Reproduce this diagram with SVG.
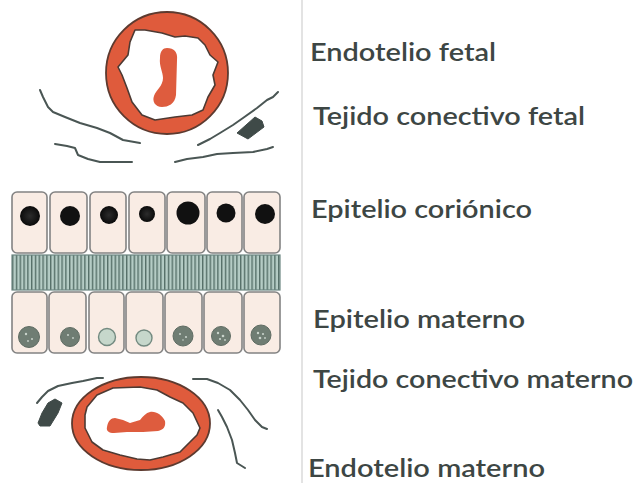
<svg xmlns="http://www.w3.org/2000/svg" width="640" height="483" viewBox="0 0 640 483">
  <style>
    .lbl { font-family: Lato, "Open Sans", "Liberation Sans", sans-serif; font-size: 25px; font-weight: 600; fill: #3d4644; }
    .fiber { fill: none; stroke: #4a5654; stroke-width: 2; stroke-linejoin: round; stroke-linecap: round; }
    .blob { fill: #3f4a48; stroke: #3f4a48; stroke-width: 1; stroke-linejoin: round; }
    .ring { fill: #df5b3c; stroke: #5d3a2f; stroke-width: 1.8; }
    .lumen { fill: #ffffff; stroke: #4d3a33; stroke-width: 1.6; stroke-linejoin: round; }
    .blood { fill: #de5c3e; }
    .cell { fill: #f9ece4; stroke: #838383; stroke-width: 1.6; }
    .nucA { fill: #111111; }
    .nucB { fill: url(#darkNuc); }
    .nucM { fill: #6f7d73; stroke: #5f6c63; stroke-width: 1; }
    .nucL { fill: #c6d7cb; stroke: #738a80; stroke-width: 1.4; }
    .speck { fill: #c9d3cb; }
  </style>
  <defs>
    <radialGradient id="darkNuc" cx="0.5" cy="0.5" r="0.5">
      <stop offset="0" stop-color="#2c2c2c"/>
      <stop offset="0.6" stop-color="#181818"/>
      <stop offset="1" stop-color="#0a0a0a"/>
    </radialGradient>
    <pattern id="stripes" x="12" y="0" width="3.8" height="10" patternUnits="userSpaceOnUse">
      <rect width="3.8" height="10" fill="#b5ccc5"/>
      <rect x="0" width="1.4" height="10" fill="#567069"/>
    </pattern>
  </defs>

  <rect width="640" height="483" fill="#ffffff"/>
  <line x1="302" y1="0" x2="302" y2="483" stroke="#e3e3e3" stroke-width="2"/>

  <!-- fetal capillary -->
  <g id="fetal-vessel">
    <circle class="ring" cx="167" cy="73" r="61"/>
    <path class="lumen" d="M135,30 L145,30 L162,33 L175,37 L185,36 L198,38 L205,45 L210,55 L218,62 L213,75 L215,85 L208,97 L203,110 L192,115 L175,117 L155,120 L142,115 L132,102 L127,88 L122,75 L118,67 L128,55 L130,42 Z"/>
    <path class="blood" d="M167,48 C174,48 178,52 177,60 L176,95 C175,104 168,107 162,107 C155,107 152,101 154,96 C156,90 163,86 163,78 C163,72 159,66 160,58 C160,51 163,48 167,48 Z"/>
  </g>

  <!-- fetal connective tissue -->
  <g id="fetal-connective">
    <polyline class="fiber" points="40,90 43,97 48,107 53,112 65,117 80,123 97,128 110,133 123,140 140,143"/>
    <polyline class="fiber" points="55,144 67,146 75,148 78,155 88,159 100,162 132,162"/>
    <polyline class="fiber" points="198,145 210,139 220,133 233,125 243,118 257,108 267,100 273,97 278,92"/>
    <polyline class="fiber" points="175,162 187,159 203,157 217,154 233,153 253,152 267,149 273,147"/>
    <polygon class="blob" points="237,133 255,117 262,121 264,127 248,139"/>
  </g>

  <!-- chorionic epithelium -->
  <g id="chorionic-epithelium">
    <rect class="cell" x="12" y="192" width="35" height="61" rx="5"/>
    <rect class="cell" x="50" y="192" width="37" height="61" rx="5"/>
    <rect class="cell" x="90" y="192" width="36" height="61" rx="5"/>
    <rect class="cell" x="129" y="192" width="36" height="61" rx="5"/>
    <rect class="cell" x="167" y="192" width="38" height="61" rx="5"/>
    <rect class="cell" x="207" y="192" width="35" height="61" rx="5"/>
    <rect class="cell" x="244" y="192" width="36" height="61" rx="5"/>
    <circle class="nucB" cx="30" cy="216" r="10"/>
    <circle class="nucA" cx="70" cy="216" r="10"/>
    <circle class="nucB" cx="109" cy="215" r="9"/>
    <circle class="nucB" cx="147" cy="214" r="8"/>
    <circle class="nucA" cx="188" cy="213" r="11.5"/>
    <circle class="nucA" cx="226" cy="213" r="9.5"/>
    <circle class="nucA" cx="265" cy="214" r="10"/>
  </g>

  <!-- striated interface -->
  <g id="interface-band">
    <rect x="12" y="255" width="268" height="35" fill="url(#stripes)" stroke="#6c8580" stroke-width="1.2"/>
  </g>

  <!-- maternal epithelium -->
  <g id="maternal-epithelium">
    <rect class="cell" x="12" y="292" width="35" height="61" rx="5"/>
    <rect class="cell" x="49" y="292" width="37" height="61" rx="5"/>
    <rect class="cell" x="89" y="292" width="35" height="61" rx="5"/>
    <rect class="cell" x="126" y="292" width="37" height="61" rx="5"/>
    <rect class="cell" x="165" y="292" width="37" height="61" rx="5"/>
    <rect class="cell" x="204" y="292" width="38" height="61" rx="5"/>
    <rect class="cell" x="244" y="292" width="36" height="61" rx="5"/>
    <circle class="nucM" cx="29" cy="337" r="10.5"/>
    <circle class="nucM" cx="70" cy="337" r="9.5"/>
    <circle class="nucL" cx="107" cy="337" r="8.5"/>
    <circle class="nucL" cx="144" cy="338" r="8"/>
    <circle class="nucM" cx="183" cy="336" r="10"/>
    <circle class="nucM" cx="221" cy="336" r="9.5"/>
    <circle class="nucM" cx="261" cy="335" r="10"/>
    <g class="speck">
      <circle cx="26" cy="334" r="1.2"/><circle cx="32" cy="339" r="1"/><circle cx="28" cy="341" r="0.9"/>
      <circle cx="68" cy="335" r="1"/><circle cx="73" cy="338" r="0.9"/>
      <circle cx="180" cy="334" r="1"/><circle cx="186" cy="337" r="1.1"/><circle cx="183" cy="340" r="0.8"/>
      <circle cx="218" cy="333" r="1.2"/><circle cx="223" cy="336" r="1.3"/><circle cx="220" cy="339" r="1.1"/><circle cx="225" cy="340" r="0.9"/>
      <circle cx="258" cy="333" r="1.2"/><circle cx="263" cy="334" r="1.1"/><circle cx="260" cy="338" r="1.3"/><circle cx="265" cy="338" r="0.9"/>
    </g>
  </g>

  <!-- maternal connective tissue -->
  <g id="maternal-connective">
    <polyline class="fiber" points="37,403 42,397 48,391 58,386 72,383 83,381 97,378 103,378"/>
    <polyline class="fiber" points="193,379 207,379 218,383 230,390 240,400 248,410 255,420 262,427 267,429"/>
    <polyline class="fiber" points="218,410 222,417 227,427 232,440 235,453 237,463 245,468"/>
    <polygon class="blob" points="38,423 42,413 48,403 55,399 62,403 58,413 50,426 40,426"/>
  </g>

  <!-- maternal capillary -->
  <g id="maternal-vessel">
    <ellipse class="ring" cx="141" cy="423.5" rx="69" ry="46.5"/>
    <path class="lumen" d="M87,407 L97,395 L113,388 L140,387 L157,390 L170,397 L183,403 L193,413 L200,428 L197,435 L190,442 L180,452 L163,457 L150,460 L137,459 L120,455 L103,450 L92,442 L85,428 L85,415 Z"/>
    <path class="blood" d="M107,427 C108,421 111,418 115,418 L123,420 L130,423 L140,420 C143,416 146,413 150,412 C156,411 162,415 165,421 C166,427 163,430 158,431 L143,432 L127,432 L114,433 C109,433 106,431 107,427 Z"/>
  </g>

  <!-- labels -->
  <g id="labels">
    <text class="lbl" x="310" y="61" textLength="186" lengthAdjust="spacingAndGlyphs">Endotelio fetal</text>
    <text class="lbl" x="313" y="125" textLength="272" lengthAdjust="spacingAndGlyphs">Tejido conectivo fetal</text>
    <text class="lbl" x="311" y="218" textLength="221" lengthAdjust="spacingAndGlyphs">Epitelio coriónico</text>
    <text class="lbl" x="313" y="328" textLength="212" lengthAdjust="spacingAndGlyphs">Epitelio materno</text>
    <text class="lbl" x="313" y="388" textLength="320" lengthAdjust="spacingAndGlyphs">Tejido conectivo materno</text>
    <text class="lbl" x="308" y="477" textLength="237" lengthAdjust="spacingAndGlyphs">Endotelio materno</text>
  </g>
</svg>
